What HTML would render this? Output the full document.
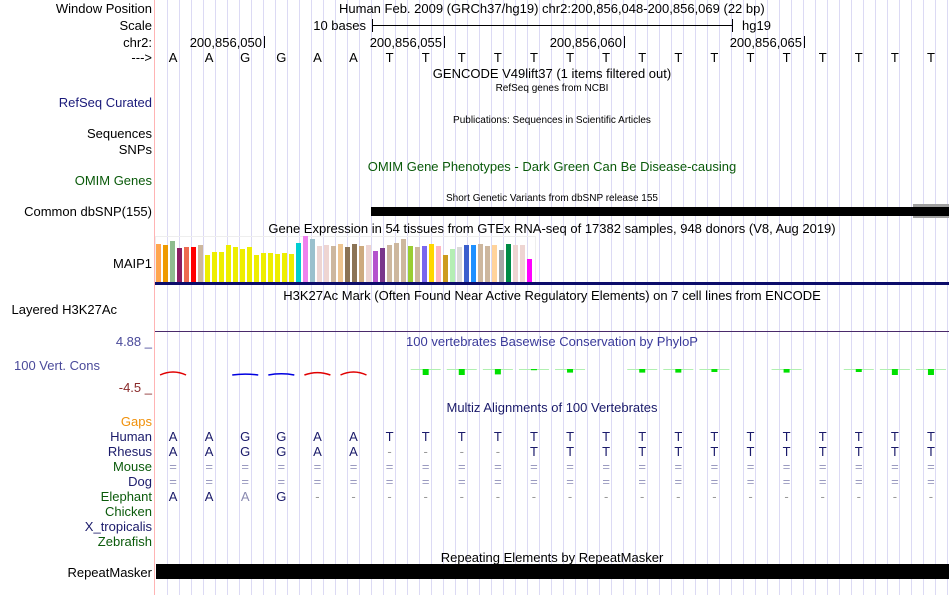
<!DOCTYPE html>
<html><head><meta charset="utf-8"><style>
html,body{margin:0;padding:0;background:#fff;width:950px;height:595px;overflow:hidden}
svg{display:block;font-family:"Liberation Sans",sans-serif}
</style></head><body>
<svg id="c" width="950" height="595" xmlns="http://www.w3.org/2000/svg">
<g id="grid"></g>
<line x1="154.5" y1="0" x2="154.5" y2="595" stroke="#ffb4b4"/>
<g font-size="13" text-anchor="end">
<text x="152" y="13">Window Position</text>
<text x="152" y="30">Scale</text>
<text x="152" y="47">chr2:</text>
<text x="152" y="62">---&gt;</text>
<text x="152" y="107" fill="#1a1a7a">RefSeq Curated</text>
<text x="152" y="138">Sequences</text>
<text x="152" y="154">SNPs</text>
<text x="152" y="185" fill="#0a5a0a">OMIM Genes</text>
<text x="152" y="216">Common dbSNP(155)</text>
<text x="152" y="268">MAIP1</text>
<text x="117" y="314">Layered H3K27Ac</text>
<text x="152" y="346" fill="#4a4a9a">4.88 _</text>
<text x="100" y="370" fill="#4a4a9a">100 Vert. Cons</text>
<text x="152" y="392" fill="#8a2a2a">-4.5 _</text>
<text x="152" y="426" fill="#f0900a">Gaps</text>
<text x="152" y="441" fill="#1a1a6a">Human</text>
<text x="152" y="456" fill="#1a1a6a">Rhesus</text>
<text x="152" y="471" fill="#0a5a0a">Mouse</text>
<text x="152" y="486" fill="#1a1a6a">Dog</text>
<text x="152" y="501" fill="#0a5a0a">Elephant</text>
<text x="152" y="516" fill="#0a5a0a">Chicken</text>
<text x="152" y="531" fill="#1a1a6a">X_tropicalis</text>
<text x="152" y="546" fill="#0a5a0a">Zebrafish</text>
<text x="152" y="577">RepeatMasker</text>
</g>
<g font-size="13">
<text x="339" y="13">Human Feb. 2009 (GRCh37/hg19)   chr2:200,856,048-200,856,069 (22 bp)</text>
<text x="366" y="30" text-anchor="end">10 bases</text>
<line x1="372" y1="25.5" x2="732" y2="25.5" stroke="#000"/>
<line x1="372.5" y1="19" x2="372.5" y2="32" stroke="#000"/>
<line x1="732.5" y1="19" x2="732.5" y2="32" stroke="#000"/>
<text x="742" y="30">hg19</text>
<text x="262" y="47" text-anchor="end">200,856,050</text><line x1="264.5" y1="36" x2="264.5" y2="48" stroke="#000"/>
<text x="442" y="47" text-anchor="end">200,856,055</text><line x1="444.5" y1="36" x2="444.5" y2="48" stroke="#000"/>
<text x="622" y="47" text-anchor="end">200,856,060</text><line x1="624.5" y1="36" x2="624.5" y2="48" stroke="#000"/>
<text x="802" y="47" text-anchor="end">200,856,065</text><line x1="804.5" y1="36" x2="804.5" y2="48" stroke="#000"/>
<text x="552" y="78" text-anchor="middle">GENCODE V49lift37 (1 items filtered out)</text>
<text x="552" y="91" text-anchor="middle" font-size="10">RefSeq genes from NCBI</text>
<text x="552" y="123" text-anchor="middle" font-size="10">Publications: Sequences in Scientific Articles</text>
<text x="552" y="171" text-anchor="middle" fill="#0a5a0a">OMIM Gene Phenotypes - Dark Green Can Be Disease-causing</text>
<text x="552" y="201" text-anchor="middle" font-size="10">Short Genetic Variants from dbSNP release 155</text>
<text x="552" y="233" text-anchor="middle">Gene Expression in 54 tissues from GTEx RNA-seq of 17382 samples, 948 donors (V8, Aug 2019)</text>
<text x="552" y="300" text-anchor="middle">H3K27Ac Mark (Often Found Near Active Regulatory Elements) on 7 cell lines from ENCODE</text>
<text x="552" y="346" text-anchor="middle" fill="#3a3a9a">100 vertebrates Basewise Conservation by PhyloP</text>
<text x="552" y="412" text-anchor="middle" fill="#1a1a6a">Multiz Alignments of 100 Vertebrates</text>
<text x="552" y="562" text-anchor="middle">Repeating Elements by RepeatMasker</text>
</g>
<rect x="913" y="204" width="36" height="14" fill="#a0a0a0"/>
<rect x="371" y="207" width="578" height="9" fill="#000"/>
<rect x="155.5" y="236.5" width="380" height="47" fill="none" stroke="#eee"/>
<g id="gtex"></g>
<rect x="155" y="282" width="794" height="3" fill="#0c0c6a"/>
<line x1="155" y1="331.5" x2="949" y2="331.5" stroke="#4a2a6a"/>
<g id="phylop"></g>
<g id="seq" font-size="13" text-anchor="middle"></g>
<rect x="156" y="564" width="793" height="15" fill="#000"/>
</svg>
<script>
const bases = ["A","A","G","G","A","A","T","T","T","T","T","T","T","T","T","T","T","T","T","T","T","T"];
const rhesus = ["A","A","G","G","A","A","-","-","-","-","T","T","T","T","T","T","T","T","T","T","T","T"];
const elephant = ["A","A","a","G","-","-","-","-","-","-","-","-","-","-","-","-","-","-","-","-","-","-"];
const gtexValues = [38,37,41,34,35,35,37,27,30,30,37,35,33,35,27,29,29,28,29,28,39,46,43,36,37,36,38,35,38,36,37,31,34,37,39,43,36,35,36,38,36,27,33,35,37,37,38,36,37,32,38,37,37,23];
const gtexColors = ["#FFA54F","#EE9A00","#8FBC8F","#8B1C62","#EE6A50","#FF0000","#CDB79E","#EEEE00","#EEEE00","#EEEE00","#EEEE00","#EEEE00","#EEEE00","#EEEE00","#EEEE00","#EEEE00","#EEEE00","#EEEE00","#EEEE00","#EEEE00","#00CED1","#EE82EE","#9AC0CD","#EED5D2","#EED5D2","#CDB79E","#EEC591","#8B7355","#8B7355","#CDAA7D","#EED5D2","#B452CD","#7A378B","#CDB79E","#CDB79E","#CDB79E","#9ACD32","#CDB79E","#7A67EE","#FFD700","#FFB6C1","#CD9B1D","#B4EEB4","#D9D9D9","#3A5FCD","#1E90FF","#CDB79E","#CDB79E","#FFD39B","#A6A6A6","#008B45","#EED5D2","#EED5D2","#FF00FF"];
const phylop = [-1,0,-0.3,-0.4,-0.8,-1,0,2,2,1.8,0.4,1.2,0,1.2,1.2,1,0,1.2,0,1.0,2,2];
const NS="http://www.w3.org/2000/svg";
const X0=155, BW=794/22;
const bx = i => X0 + BW*(i+0.5);
const gx = i => 156 + i*7;
const gy = v => 282 - v;
const py = v => 369 + Math.abs(v)*3;
function mk(tag, parent){const e=document.createElementNS(NS,tag);document.getElementById(parent).appendChild(e);return e;}
for(let x=167;x<950;x+=12){const l=mk('line','grid');


l.setAttribute('x1',x+.5);l.setAttribute('x2',x+.5);l.setAttribute('y1',0);l.setAttribute('y2',595);l.setAttribute('stroke','#dcdaf4');}
gtexValues.forEach((v,i)=>{const r=mk('rect','gtex');


r.setAttribute('x',gx(i));r.setAttribute('width',5);r.setAttribute('y',gy(v));r.setAttribute('height',v);r.setAttribute('fill',gtexColors[i]);});
phylop.forEach((v,i)=>{const c=bx(i);
if(v>0.05){const l=mk('line','phylop');


l.setAttribute('x1',c-15);l.setAttribute('x2',c+15);l.setAttribute('y1',369.5);l.setAttribute('y2',369.5);l.setAttribute('stroke','#b0f0b0');
const r=mk('rect','phylop');


r.setAttribute('x',c-3);r.setAttribute('width',6);r.setAttribute('y',369);r.setAttribute('height',py(v)-369);r.setAttribute('fill','#00e000');}
else if(v<-0.05){const p=mk('path','phylop');


const col=v<-0.5?'#e00000':'#0000e0';
p.setAttribute('d',`M${c-13},${375} Q${c},${375+v*6} ${c+13},375`);p.setAttribute('fill','none');p.setAttribute('stroke',col);p.setAttribute('stroke-width',1.5);}});
function row(arr,y,name,dashCol){arr.forEach((b,i)=>{const t=mk('text','seq');


t.setAttribute('x',bx(i));t.setAttribute('y',y);
if(b==='-'){t.textContent='-';t.setAttribute('fill','#999');}
else if(b==='='){t.textContent='=';t.setAttribute('fill','#9a9ac0');}
else if(b==='a'){t.textContent='A';t.setAttribute('fill','#8a8ab0');}
else {t.textContent=b;t.setAttribute('fill',dashCol);}});}
row(bases,62,'reference-base','#000');
row(bases,441,'human-base','#1a1a6a');
row(rhesus,456,'rhesus-base','#1a1a6a');
row(bases.map(()=>'='),471,'mouse-base','#000');
row(bases.map(()=>'='),486,'dog-base','#000');
row(elephant,501,'elephant-base','#1a1a6a');
</script>
</body></html>
